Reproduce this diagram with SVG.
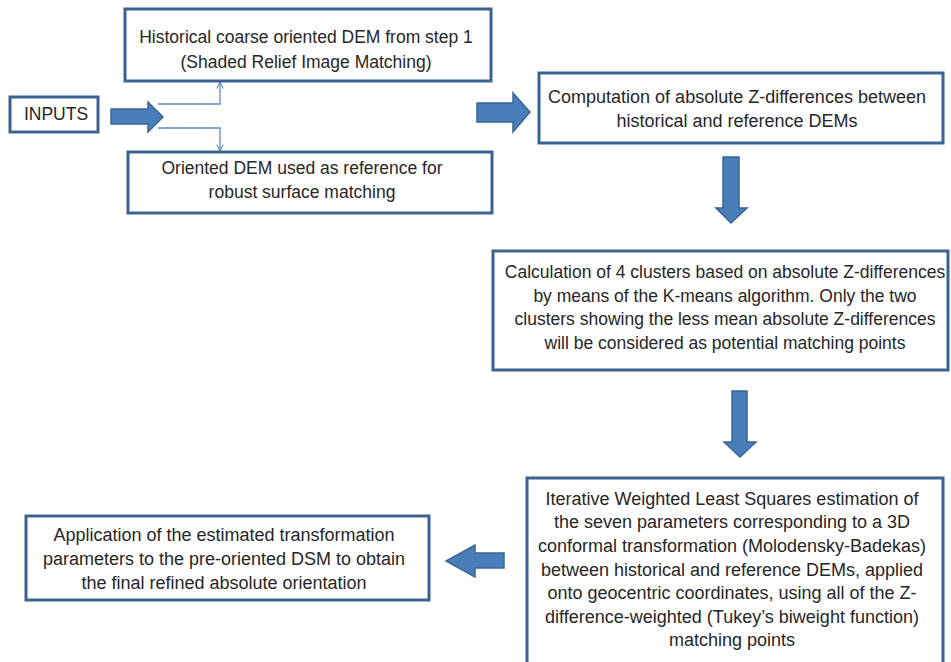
<svg xmlns="http://www.w3.org/2000/svg" width="951" height="662" viewBox="0 0 951 662">
<style>
.box{fill:#fff;stroke:#3B6291;stroke-width:3}
.t{font-family:"Liberation Sans",Arial,sans-serif;font-size:17.5px;fill:#262626;text-anchor:middle}
.b{font-size:18px}
.arr{fill:#4A7EBB;stroke:#3A6596;stroke-width:1.5}
.thin{fill:none;stroke:#5B8AC6;stroke-width:1.3}
</style>
<defs>
<marker id="open" viewBox="0 0 10 10" refX="9" refY="5" markerWidth="8" markerHeight="8" orient="auto" markerUnits="userSpaceOnUse">
<path d="M1,1 L9,5 L1,9" fill="none" stroke="#5B8AC6" stroke-width="1.3"/>
</marker>
</defs>
<rect width="951" height="662" fill="#fff"/>
<g id="connectors">
<path class="arr" d="M111,109 H148 V102 L163,117 L148,132 V124 H111 Z"/>
<path class="thin" d="M158,104 H220 V82" marker-end="url(#open)"/>
<path class="thin" d="M158,128 H220 V151" marker-end="url(#open)"/>
<path class="arr" d="M477,103 H513 V93 L530,112 L513,132 V122 H477 Z"/>
<path class="arr" d="M723,157 H739 V208 H747 L731,223 L716,208 H723 Z"/>
<path class="arr" d="M732,391 H747 V442 H756 L740,457 L724,442 H732 Z"/>
<path class="arr" d="M504,553 H475 V545 L446,561 L475,577 V568 H504 Z"/>
</g>
<g id="historical">
<rect class="box" x="125" y="9" width="366" height="72"/>
<text class="t" x="306" y="43">Historical coarse oriented DEM from step 1</text>
<text class="t" x="306" y="68">(Shaded Relief Image Matching)</text>
</g>
<g id="inputs">
<rect class="box" x="10" y="97" width="88" height="35"/>
<text class="t" x="56" y="120">INPUTS</text>
</g>
<g id="oriented">
<rect class="box" x="128" y="152" width="364" height="61"/>
<text class="t" x="302" y="174">Oriented DEM used  as reference for</text>
<text class="t" x="302" y="198">robust surface matching</text>
</g>
<g id="computation">
<rect class="box" x="539" y="73" width="404" height="70"/>
<text class="t b" x="737" y="103">Computation of absolute Z-differences between</text>
<text class="t b" x="737" y="127">historical and reference DEMs</text>
</g>
<g id="calculation">
<rect class="box" x="493" y="251" width="455" height="119"/>
<text class="t" x="725" y="278">Calculation of 4 clusters based on absolute Z-differences</text>
<text class="t" x="725" y="302">by means of the K-means algorithm. Only the two</text>
<text class="t" x="725" y="325">clusters showing the less  mean absolute Z-differences</text>
<text class="t" x="725" y="349">will be considered as potential matching points</text>
</g>
<g id="iterative">
<rect class="box" x="527" y="478" width="416" height="200"/>
<text class="t b" x="732" y="505">Iterative Weighted Least Squares estimation  of</text>
<text class="t b" x="732" y="528">the seven parameters corresponding to a 3D</text>
<text class="t b" x="732" y="552">conformal transformation (Molodensky-Badekas)</text>
<text class="t b" x="732" y="576">between historical and reference DEMs, applied</text>
<text class="t b" x="732" y="599">onto geocentric coordinates, using all of the Z-</text>
<text class="t b" x="732" y="623">difference-weighted (Tukey’s biweight function)</text>
<text class="t b" x="732" y="646">matching points</text>
</g>
<g id="application">
<rect class="box" x="26" y="516" width="403" height="84"/>
<text class="t b" x="224" y="541">Application of the estimated  transformation</text>
<text class="t b" x="224" y="565">parameters to the pre-oriented DSM to obtain</text>
<text class="t b" x="224" y="589">the final refined absolute orientation</text>
</g>
</svg>
